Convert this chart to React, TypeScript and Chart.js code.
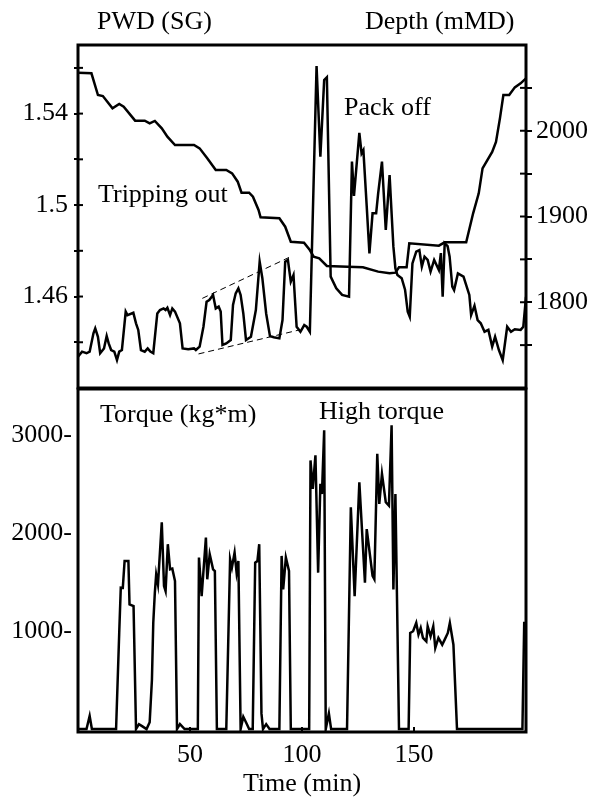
import React, { useEffect, useRef } from 'react';
import { Chart, registerables } from 'chart.js';

Chart.register(...registerables);

// ---------- Data ----------
const pwdTime = [0, 1.8, 3.8, 5.2, 6.9, 7.7, 8.9, 9.9, 11.6, 12.8, 13.7, 14.8, 16.2, 17.4, 18.4, 19.6, 21.3, 22.1, 24.7, 25.9, 26.9, 28.1, 29.8, 31.1, 32.3, 33.6, 35.4, 36.6, 38.2, 39.1, 39.9, 41.1, 42.1, 43.3, 45.5, 46.7, 49.2, 51.8, 52.6, 54.3, 56.0, 57.4, 58.6, 60.3, 61.5, 62.8, 63.7, 64.5, 66.2, 68.2, 69.2, 70.4, 71.6, 72.6, 73.8, 75.0, 77.2, 79.4, 81.1, 82.3, 84.0, 85.7, 87.4, 89.9, 91.3, 92.5, 93.7, 95.0, 96.2, 97.6, 99.3, 101.0, 102.1, 103.5, 106.5, 108.2, 109.9, 111.1, 112.8, 115.3, 117.9, 121.0, 122.3, 123.2, 125.6, 126.6, 127.4, 128.9, 130.1, 131.5, 133.1, 134.0, 135.7, 137.4, 139.1, 140.0, 140.8, 141.7, 142.6, 144.5, 146.0, 147.2, 148.1, 149.3, 151.0, 152.4, 153.5, 154.7, 156.1, 157.4, 159.0, 161.1, 162.0, 162.8, 163.7, 165.0, 165.9, 167.1, 167.9, 169.6, 172.1, 174.7, 175.5, 177.0, 178.4, 179.8, 181.5, 183.2, 184.9, 186.2, 187.9, 189.6, 191.6, 193.3, 195.0, 197.6, 198.8, 200];
const pwdValues = [1.4337, 1.4359, 1.4352, 1.4359, 1.4439, 1.4461, 1.4424, 1.4352, 1.4373, 1.4427, 1.4395, 1.4366, 1.4359, 1.4322, 1.4359, 1.4366, 1.4534, 1.4519, 1.4529, 1.4483, 1.4454, 1.4366, 1.4359, 1.4373, 1.4359, 1.4352, 1.4526, 1.4541, 1.4548, 1.4541, 1.4551, 1.4519, 1.4548, 1.4534, 1.4483, 1.4373, 1.4369, 1.4373, 1.4366, 1.4381, 1.4468, 1.4577, 1.4585, 1.4607, 1.4548, 1.4556, 1.4534, 1.4388, 1.4395, 1.4410, 1.4563, 1.4614, 1.4636, 1.4607, 1.4526, 1.4410, 1.4424, 1.4541, 1.4752, 1.4680, 1.4526, 1.4427, 1.4422, 1.4417, 1.4497, 1.4752, 1.4760, 1.4665, 1.4694, 1.4468, 1.4446, 1.4475, 1.4468, 1.4446, 1.5608, 1.5212, 1.5547, 1.5559, 1.4687, 1.4636, 1.4607, 1.4599, 1.5190, 1.5040, 1.5316, 1.5226, 1.5240, 1.4993, 1.4789, 1.4964, 1.4964, 1.5051, 1.5190, 1.4891, 1.5131, 1.4964, 1.4818, 1.4723, 1.4694, 1.4680, 1.4630, 1.4534, 1.4512, 1.4745, 1.4796, 1.4803, 1.4731, 1.4774, 1.4760, 1.4709, 1.4760, 1.4716, 1.4790, 1.4599, 1.4833, 1.4820, 1.4774, 1.4643, 1.4628, 1.4701, 1.4687, 1.4607, 1.4519, 1.4560, 1.4497, 1.4483, 1.4446, 1.4454, 1.4381, 1.4424, 1.4366, 1.4322, 1.4468, 1.4446, 1.4457, 1.4454, 1.4468, 1.4599];

const depthTime = [0, 6.0, 8.9, 11.1, 15.4, 18.4, 20.4, 25.5, 29.8, 32.0, 34.3, 37.4, 39.9, 43.3, 51.8, 54.3, 57.7, 61.5, 66.2, 68.8, 71.3, 73.0, 76.4, 78.1, 80.6, 81.5, 89.9, 92.5, 95.0, 100.9, 103.5, 105.2, 107.7, 111.1, 120.4, 127.2, 134.0, 139.1, 141.7, 143.3, 146.7, 147.9, 161.1, 163.7, 173.3, 176.4, 178.9, 180.6, 184.9, 186.6, 188.4, 189.9, 192.5, 195.0, 197.6, 200];
const depthValues = [2067.7, 2067.0, 2041.7, 2040.5, 2026.1, 2031.2, 2028.1, 2011.8, 2011.8, 2008.6, 2011.4, 2002.8, 1993.1, 1983.4, 1983.4, 1979.5, 1967.9, 1954.2, 1954.2, 1950.3, 1940.6, 1927.8, 1927.8, 1923.1, 1907.6, 1899.0, 1897.9, 1888.1, 1870.6, 1869.5, 1860.9, 1853.1, 1851.2, 1842.3, 1841.5, 1840.7, 1835.7, 1833.7, 1834.5, 1840.7, 1840.7, 1868.7, 1866.0, 1869.9, 1869.9, 1903.7, 1927.0, 1956.2, 1975.3, 1987.0, 2015.0, 2041.7, 2041.7, 2050.6, 2055.3, 2061.1];

const torqueTime = [0, 3.8, 5.2, 6.2, 17.0, 18.4, 19.1, 20.0, 20.8, 22.5, 23.0, 24.8, 25.9, 27.2, 28.6, 30.6, 32.0, 33.0, 33.6, 34.3, 34.9, 35.7, 37.4, 38.4, 39.1, 40.1, 41.1, 42.1, 43.3, 44.2, 45.5, 47.6, 53.5, 54.0, 55.2, 57.1, 57.7, 58.8, 60.3, 61.1, 62.0, 66.2, 67.9, 68.7, 69.9, 70.8, 71.6, 72.6, 73.8, 75.2, 76.4, 78.0, 79.1, 80.1, 80.9, 81.9, 82.6, 84.0, 85.5, 89.9, 90.9, 91.6, 92.8, 94.2, 95.0, 103.2, 103.8, 104.8, 106.0, 107.2, 108.2, 108.9, 109.9, 110.6, 112.0, 113.0, 120.1, 121.8, 123.5, 125.6, 128.1, 128.9, 131.5, 132.3, 133.6, 134.5, 135.7, 137.4, 138.8, 140.0, 140.8, 141.7, 143.3, 147.6, 148.3, 149.6, 151.0, 152.0, 153.0, 154.0, 155.5, 156.1, 157.4, 158.6, 159.5, 160.9, 162.6, 163.7, 165.1, 166.0, 167.6, 169.2, 198.4, 199.2, 200];
const torqueValues = [0, 0, 133, 0, 0, 981, 1442, 1440, 1715, 1715, 1272, 1254, 0, 50, 30, 0, 70, 500, 1083, 1391, 1578, 1476, 2109, 1459, 1408, 1886, 1630, 1637, 1510, 0, 50, 0, 0, 1750, 1357, 1955, 1528, 1784, 1630, 1613, 0, 0, 1733, 1647, 1801, 1596, 1715, 0, 126, 60, 0, 0, 1698, 1715, 1886, 160, 0, 50, 0, 0, 1767, 1425, 1750, 1613, 0, 0, 2741, 2451, 2793, 1596, 2502, 2399, 3049, 0, 160, 0, 0, 2263, 1357, 2519, 1493, 2041, 1562, 1528, 2810, 2297, 2604, 2314, 2280, 3100, 1425, 2399, 0, 0, 981, 998, 1083, 964, 1032, 930, 895, 1049, 947, 1049, 827, 930, 861, 913, 981, 1083, 861, 0, 0, 1083, 1083];

const dashUpperTime = [55.5, 94.2];
const dashUpperValues = [1.4592, 1.4771];
const dashLowerTime = [53.8, 98.4];
const dashLowerValues = [1.4349, 1.4453];

const pwdTicks = [1.44, 1.46, 1.48, 1.5, 1.52, 1.54, 1.56];
const pwdLabeled = [1.46, 1.5, 1.54];
const depthTicks = [1750, 1800, 1850, 1900, 1950, 2000, 2050];
const depthLabeled = [1800, 1900, 2000];
const torqueTicks = [1000, 2000, 3000];
const timeTicks = [50, 100, 150];

// ---------- helpers ----------
const FONT = 'Liberation Serif';
const toPoints = (xs: number[], ys: number[]) => xs.map((x, i) => ({ x, y: ys[i] }));

const framePlugin = {
  id: 'frame',
  afterDraw(chart: any) {
    const { ctx, chartArea: a } = chart;
    ctx.save();
    ctx.strokeStyle = '#000';
    ctx.lineWidth = 3;
    ctx.strokeRect(a.left, a.top, a.right - a.left, a.bottom - a.top);
    ctx.restore();
  },
};

const innerTicksPlugin = {
  id: 'innerTicks',
  afterDraw(chart: any, _args: any, opts: any) {
    const { ctx, chartArea: a } = chart;
    ctx.save();
    ctx.strokeStyle = '#000';
    ctx.lineWidth = 2;
    Object.keys(opts || {}).forEach((id) => {
      const len = opts[id];
      const scale = chart.scales[id];
      if (!scale || typeof len !== 'number') return;
      scale.ticks.forEach((t: any) => {
        const p = scale.getPixelForValue(t.value);
        ctx.beginPath();
        if (scale.isHorizontal()) {
          ctx.moveTo(p, a.bottom);
          ctx.lineTo(p, a.bottom - len);
        } else if (scale.position === 'left') {
          ctx.moveTo(a.left, p);
          ctx.lineTo(a.left + len, p);
        } else {
          ctx.moveTo(a.right, p);
          ctx.lineTo(a.right - len, p);
        }
        ctx.stroke();
      });
    });
    ctx.restore();
  },
};

const lineDs = (data: any[], yAxisID: string, extra: any = {}) => ({
  data,
  yAxisID,
  borderColor: '#000',
  borderWidth: 2.5,
  pointRadius: 0,
  tension: 0,
  fill: false,
  ...extra,
});

const textStyle = (left: number, top: number): React.CSSProperties => ({
  position: 'absolute',
  left,
  top,
  fontFamily: FONT,
  fontSize: 26,
  lineHeight: '26px',
  whiteSpace: 'nowrap',
  color: '#000',
});

const fitV = (w: number) => (s: any) => {
  s.width = w;
  s.paddingTop = 0;
  s.paddingBottom = 0;
};

export default function App() {
  const topRef = useRef<HTMLCanvasElement>(null);
  const botRef = useRef<HTMLCanvasElement>(null);

  useEffect(() => {
    const font = { family: FONT, size: 26 };
    const top = new Chart(topRef.current as HTMLCanvasElement, {
      type: 'line',
      data: {
        datasets: [
          lineDs(toPoints(pwdTime, pwdValues), 'y'),
          lineDs(toPoints(depthTime, depthValues), 'y2'),
          lineDs(toPoints(dashUpperTime, dashUpperValues), 'y', { borderWidth: 1, borderDash: [6, 4] }),
          lineDs(toPoints(dashLowerTime, dashLowerValues), 'y', { borderWidth: 1, borderDash: [6, 4] }),
        ],
      },
      options: {
        animation: false,
        responsive: false,
        maintainAspectRatio: false,
        layout: { padding: { top: 45, bottom: 4, left: 0, right: 0 } },
        plugins: {
          legend: { display: false },
          tooltip: { enabled: false },
          innerTicks: { y: 5, y2: 6 },
        } as any,
        scales: {
          x: { type: 'linear', min: 0, max: 200, display: false },
          y: {
            type: 'linear',
            position: 'left',
            min: 1.42,
            max: 1.57,
            afterBuildTicks: (s: any) => { s.ticks = pwdTicks.map((v) => ({ value: v })); },
            afterFit: fitV(78),
            ticks: {
              font,
              color: '#000',
              padding: 6,
              callback: (v: any) => (pwdLabeled.includes(Number(v)) ? String(v) : ''),
            },
            grid: { drawOnChartArea: false, drawTicks: true, tickLength: 4, color: '#000', lineWidth: 2 },
            border: { display: false },
          },
          y2: {
            type: 'linear',
            position: 'right',
            min: 1700,
            max: 2100,
            afterBuildTicks: (s: any) => { s.ticks = depthTicks.map((v) => ({ value: v })); },
            afterFit: fitV(67),
            ticks: {
              font,
              color: '#000',
              padding: 4,
              callback: (v: any) => (depthLabeled.includes(Number(v)) ? String(v) : ''),
            },
            grid: { drawOnChartArea: false, drawTicks: true, tickLength: 6, color: '#000', lineWidth: 2 },
            border: { display: false },
          },
        },
      },
      plugins: [framePlugin, innerTicksPlugin],
    } as any);

    const bot = new Chart(botRef.current as HTMLCanvasElement, {
      type: 'line',
      data: {
        datasets: [lineDs(toPoints(torqueTime, torqueValues), 'y')],
      },
      options: {
        animation: false,
        responsive: false,
        maintainAspectRatio: false,
        layout: { padding: { top: 2, bottom: 0, left: 0, right: 67 } },
        plugins: {
          legend: { display: false },
          tooltip: { enabled: false },
          innerTicks: { x: 5 },
        } as any,
        scales: {
          x: {
            type: 'linear',
            min: 0,
            max: 200,
            afterBuildTicks: (s: any) => { s.ticks = timeTicks.map((v) => ({ value: v })); },
            afterFit: (s: any) => { s.height = 72; s.paddingLeft = 0; s.paddingRight = 0; },
            ticks: { font, color: '#000', padding: 8, maxRotation: 0 },
            grid: { display: false, drawTicks: false },
            border: { display: false },
            title: { display: true, text: 'Time (min)', font, color: '#000', padding: { top: 0, bottom: 4 } },
          },
          y: {
            type: 'linear',
            position: 'left',
            min: -30,
            max: 3470,
            afterBuildTicks: (s: any) => { s.ticks = torqueTicks.map((v) => ({ value: v })); },
            afterFit: fitV(78),
            ticks: { font, color: '#000', padding: 6, callback: (v: any) => `${v}-` },
            grid: { display: false, drawTicks: false },
            border: { display: false },
          },
        },
      },
      plugins: [framePlugin, innerTicksPlugin],
    } as any);

    return () => {
      top.destroy();
      bot.destroy();
    };
  }, []);

  return (
    <div style={{ position: 'absolute', left: 0, top: 0, width: 593, height: 804, background: '#fff' }}>
      <canvas ref={botRef} width={593} height={417} style={{ position: 'absolute', left: 0, top: 387, display: 'block' }} />
      <canvas ref={topRef} width={593} height={392} style={{ position: 'absolute', left: 0, top: 0, display: 'block' }} />
      <div style={textStyle(97, 8)}>PWD (SG)</div>
      <div style={textStyle(365, 8)}>Depth (mMD)</div>
      <div style={textStyle(344, 94)}>Pack off</div>
      <div style={textStyle(98, 181)}>Tripping out</div>
      <div style={textStyle(100, 401)}>Torque (kg*m)</div>
      <div style={textStyle(319, 398)}>High torque</div>
    </div>
  );
}
